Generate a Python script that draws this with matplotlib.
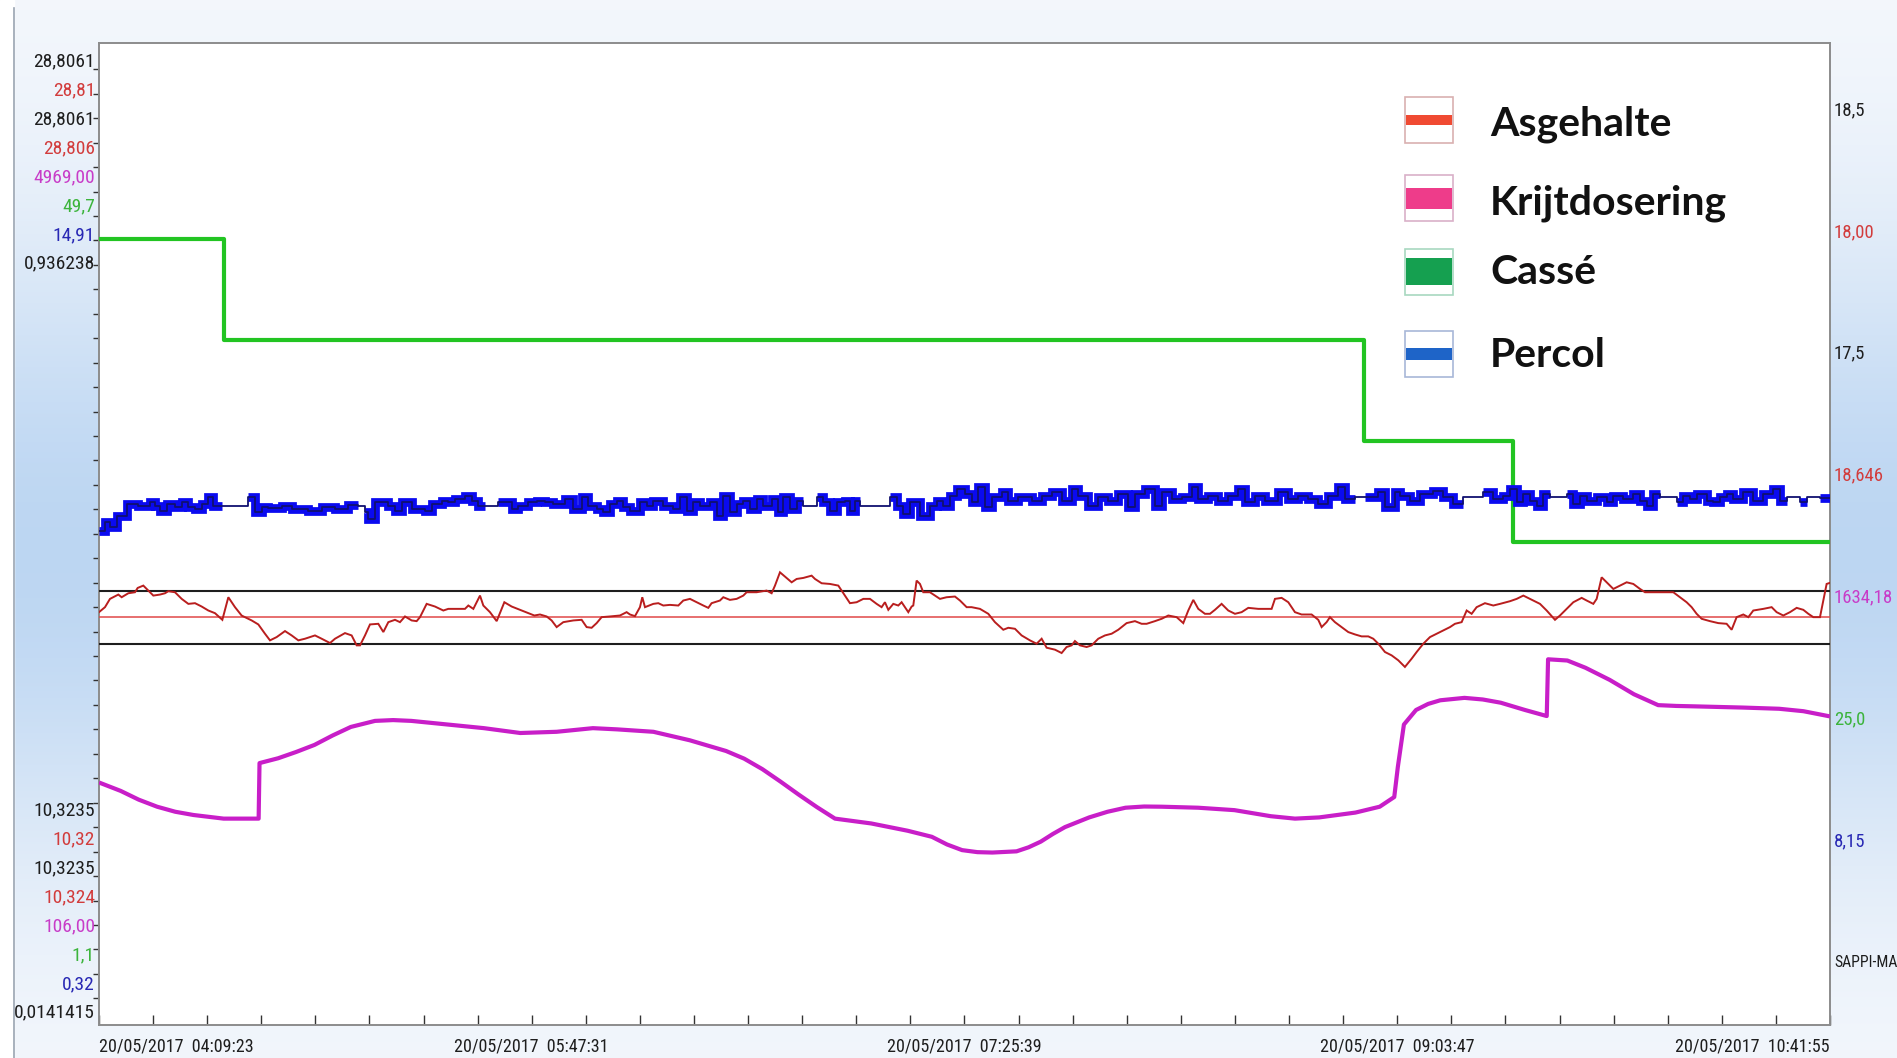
import numpy as np
import matplotlib
matplotlib.use("Agg")
import matplotlib.pyplot as plt
from matplotlib import font_manager
from matplotlib.patches import Rectangle

# ---------------------------------------------------------------- data
SPAN_MIN = 392.533          # 20/05/2017 04:09:23 -> 10:41:55
time_labels = ["20/05/2017  04:09:23", "20/05/2017  05:47:31",
               "20/05/2017  07:25:39", "20/05/2017  09:03:47",
               "20/05/2017  10:41:55"]
minor_per_label = 8

# scale ranges (bottom, top) of each pen
scale_limits_black = (10.3235, 28.8061)
scale_setpoint = (10.32, 28.81)
scale_asgehalte = (10.324, 28.806)
scale_krijt = (106.0, 4969.0)
scale_casse = (1.1, 49.7)
scale_percol = (0.32, 14.91)
scale_misc = (0.0141415, 0.936238)

limit_high = 18.5
setpoint = 18.00
limit_low = 17.5

# Asgehalte (minutes from start, value)
asgehalte_readings = [
    (0.0, 18.094), (1.36, 18.188), (2.49, 18.344), (4.38, 18.425), (5.14, 18.375),
    (6.65, 18.45), (8.16, 18.469), (8.77, 18.55), (10.05, 18.594), (11.19, 18.5),
    (12.32, 18.406), (13.83, 18.425), (14.97, 18.45), (15.72, 18.488), (17.23, 18.469),
    (18.75, 18.344), (20.26, 18.25), (21.77, 18.263), (23.28, 18.2), (24.79, 18.125),
    (26.30, 18.075), (27.97, 17.95), (29.33, 18.375), (30.84, 18.188), (32.35, 18.03),
    (34.62, 17.938), (36.13, 17.863), (37.64, 17.688), (38.78, 17.563), (40.29, 17.625),
    (42.18, 17.738), (43.69, 17.656), (45.20, 17.563), (46.71, 17.594), (48.98, 17.656),
    (50.49, 17.594), (52.38, 17.513), (53.52, 17.594), (55.78, 17.7), (57.29, 17.656),
    (58.43, 17.469), (59.19, 17.469), (60.32, 17.656), (61.45, 17.863), (63.34, 17.875),
    (64.48, 17.72), (65.61, 17.906), (67.12, 17.95), (68.25, 17.906), (69.39, 18.013),
    (70.90, 17.938), (72.03, 17.925), (72.79, 18.0), (74.30, 18.25), (76.19, 18.2),
    (78.08, 18.125), (79.21, 18.156), (82.99, 18.156), (83.75, 18.219), (84.89, 18.156),
    (85.64, 18.281), (86.40, 18.406), (87.15, 18.219), (88.66, 18.094), (90.18, 17.925),
    (91.92, 18.281), (93.58, 18.2), (95.84, 18.125), (97.36, 18.075), (98.72, 18.031),
    (100.0, 18.05), (101.51, 18.013), (102.64, 17.938), (103.78, 17.813), (105.29, 17.906),
    (107.56, 17.938), (109.45, 17.95), (110.58, 17.813), (111.71, 17.8), (112.85, 17.888),
    (113.98, 18.0), (115.87, 18.013), (118.14, 18.031), (119.65, 18.094), (120.41, 18.05),
    (121.54, 18.019), (122.67, 18.188), (123.20, 18.375), (123.81, 18.188), (125.70, 18.25),
    (126.83, 18.263), (127.96, 18.219), (129.48, 18.231), (131.37, 18.219), (132.50, 18.313),
    (134.01, 18.344), (135.52, 18.281), (137.04, 18.219), (138.17, 18.175), (138.92, 18.263),
    (140.81, 18.313), (141.57, 18.375), (143.08, 18.325), (144.59, 18.344), (146.11, 18.406),
    (146.86, 18.469), (149.13, 18.469), (151.40, 18.5), (152.53, 18.45), (153.29, 18.594),
    (154.42, 18.844), (155.55, 18.763), (157.07, 18.656), (158.20, 18.719), (159.71, 18.738),
    (161.60, 18.781), (162.36, 18.719), (163.87, 18.638), (165.76, 18.625), (167.65, 18.594),
    (169.16, 18.406), (170.29, 18.263), (171.81, 18.281), (173.32, 18.344), (174.83, 18.344),
    (176.34, 18.25), (177.47, 18.188), (178.23, 18.281), (178.99, 18.138), (180.12, 18.25),
    (181.25, 18.219), (182.01, 18.281), (183.52, 18.094), (184.28, 18.2), (184.65, 18.219),
    (185.41, 18.688), (186.17, 18.625), (186.92, 18.469), (188.43, 18.469), (189.57, 18.406),
    (190.70, 18.344), (192.21, 18.375), (194.10, 18.388), (195.24, 18.313), (196.75, 18.188),
    (197.88, 18.188), (199.77, 18.156), (201.66, 18.063), (203.17, 17.906), (205.06, 17.763),
    (206.20, 17.8), (207.71, 17.781), (209.22, 17.656), (211.11, 17.563), (212.62, 17.5),
    (213.76, 17.594), (214.89, 17.425), (216.78, 17.388), (218.29, 17.325), (219.42, 17.438),
    (220.56, 17.469), (221.31, 17.55), (222.45, 17.469), (223.96, 17.438), (225.09, 17.469),
    (226.60, 17.594), (228.12, 17.656), (229.63, 17.688), (231.14, 17.763), (233.03, 17.888),
    (234.92, 17.925), (236.43, 17.875), (237.57, 17.875), (239.45, 17.925), (240.97, 17.969),
    (242.48, 18.031), (244.37, 18.0), (245.88, 17.888), (247.01, 18.125), (248.15, 18.325),
    (249.28, 18.156), (250.79, 18.063), (251.93, 18.063), (253.06, 18.138), (254.57, 18.25),
    (256.08, 18.125), (257.60, 18.063), (259.11, 18.094), (260.62, 18.175), (262.89, 18.156),
    (265.91, 18.156), (266.67, 18.344), (268.18, 18.363), (269.69, 18.281), (271.20, 18.094),
    (272.71, 18.05), (274.98, 18.05), (276.49, 17.95), (277.25, 17.813), (278.38, 17.906),
    (279.14, 18.0), (280.27, 17.906), (281.78, 17.813), (283.30, 17.719), (284.81, 17.675),
    (286.32, 17.638), (287.83, 17.638), (288.96, 17.594), (290.10, 17.5), (291.61, 17.344),
    (293.12, 17.281), (294.63, 17.188), (296.14, 17.063), (297.67, 17.219), (298.80, 17.344),
    (300.31, 17.5), (301.82, 17.625), (303.33, 17.688), (304.85, 17.75), (306.36, 17.813),
    (307.49, 17.875), (309.00, 17.906), (310.14, 18.125), (311.27, 18.063), (312.40, 18.188),
    (314.29, 18.263), (316.18, 18.219), (317.70, 18.25), (319.96, 18.3), (321.48, 18.344),
    (322.99, 18.406), (324.50, 18.344), (326.77, 18.25), (328.28, 18.125), (330.17, 17.95),
    (331.30, 18.031), (332.81, 18.156), (334.33, 18.281), (336.22, 18.363), (337.35, 18.313),
    (338.86, 18.25), (339.62, 18.344), (340.75, 18.75), (341.88, 18.656), (343.40, 18.531),
    (344.91, 18.594), (346.42, 18.656), (347.93, 18.625), (349.45, 18.531), (350.58, 18.469),
    (353.22, 18.469), (355.49, 18.469), (357.00, 18.469), (358.51, 18.375), (360.02, 18.281),
    (361.16, 18.188), (362.29, 18.063), (363.43, 17.969), (365.31, 17.925), (367.20, 17.888),
    (369.09, 17.875), (370.23, 17.763), (371.36, 18.0), (372.87, 18.05), (374.01, 18.0),
    (375.14, 18.125), (377.41, 18.156), (379.30, 18.188), (380.43, 18.094), (381.94, 18.031),
    (383.46, 18.094), (384.97, 18.175), (386.48, 18.138), (387.62, 18.063), (388.75, 18.0),
    (390.26, 18.0), (391.01, 18.313), (391.77, 18.625), (392.53, 18.646),
]

# Krijtdosering
krijt_readings = [
    (0.0, 1307), (4.94, 1265), (9.0, 1222), (13.18, 1187), (17.3, 1162), (21.41, 1146),
    (28.27, 1128), (36.2, 1128), (36.4, 1403), (40.63, 1427), (44.7, 1458), (48.86, 1493),
    (53.0, 1540), (57.10, 1582), (62.59, 1612), (66.7, 1616), (70.82, 1612), (79.06, 1594),
    (87.29, 1576), (95.53, 1552), (103.76, 1558), (112.0, 1576), (117.49, 1570),
    (125.72, 1558), (133.96, 1516), (142.19, 1463), (146.3, 1425), (150.43, 1373),
    (154.5, 1312), (158.66, 1247), (162.8, 1185), (166.90, 1128), (175.13, 1104),
    (183.37, 1068), (188.86, 1038), (192.3, 1000), (195.72, 972), (199.2, 962),
    (202.58, 960), (208.07, 966), (210.8, 986), (213.56, 1014), (216.3, 1052),
    (219.05, 1086), (224.54, 1134), (228.7, 1162), (232.78, 1182), (237.0, 1188),
    (241.01, 1187), (249.25, 1182), (257.48, 1170), (265.72, 1140), (271.21, 1128),
    (276.70, 1134), (284.93, 1158), (290.42, 1187), (293.72, 1235), (294.54, 1385),
    (295.91, 1594), (298.66, 1666), (301.4, 1696), (304.15, 1714), (309.64, 1726),
    (313.8, 1718), (317.87, 1702), (323.36, 1666), (328.30, 1636), (328.6, 1917),
    (332.97, 1911), (337.09, 1875), (342.58, 1815), (348.07, 1744), (353.56, 1690),
    (357.7, 1686), (361.79, 1684), (372.77, 1678), (381.01, 1672), (386.50, 1660),
    (392.53, 1634.18),
]

# Cassé (step changes)
casse_time = [0.0, 28.27, 286.85, 320.6, 392.53]
casse_value = [40.0, 35.0, 30.0, 25.0, 25.0]

# Percol
percol_readings = [
    (0.0, 7.665), (1.36, 7.788), (2.49, 7.714), (4.01, 7.887), (6.27, 8.06),
    (8.92, 8.035), (11.56, 8.085), (12.70, 8.035), (13.83, 7.961), (15.34, 8.06),
    (17.23, 8.01), (18.75, 8.085), (20.26, 8.01), (21.77, 7.986), (23.28, 8.06),
    (24.79, 8.159), (25.93, 8.035), (27.82, 8.035), (33.86, 8.159), (35.38, 7.936),
    (36.89, 8.01), (38.40, 7.998), (41.42, 8.025), (43.69, 7.986), (47.47, 7.961),
    (50.49, 8.01), (53.52, 7.986), (56.54, 8.045), (58.81, 8.035), (60.32, 7.936),
    (61.0, 7.838), (62.59, 8.085), (65.61, 8.035), (67.12, 7.961), (68.64, 8.085),
    (70.90, 7.986), (73.93, 7.961), (75.44, 8.06), (77.71, 8.11), (79.22, 8.085),
    (80.73, 8.134), (83.0, 8.184), (84.51, 8.11), (86.02, 8.035), (87.53, 8.035),
    (90.56, 8.085), (93.58, 7.986), (95.09, 8.035), (97.36, 8.085), (99.24, 8.11),
    (101.13, 8.085), (103.02, 8.06), (105.67, 8.134), (107.56, 7.986), (109.45, 8.159),
    (110.96, 8.035), (112.85, 7.986), (114.36, 7.936), (115.87, 8.06), (117.38, 8.11),
    (118.90, 8.01), (120.41, 7.961), (122.67, 8.085), (124.19, 8.035), (125.70, 8.11),
    (127.97, 8.035), (130.23, 7.986), (131.75, 8.159), (133.26, 7.961), (134.77, 8.085),
    (136.28, 8.035), (138.55, 8.085), (140.06, 7.887), (141.57, 8.184), (143.08, 7.936),
    (144.60, 8.06), (146.11, 8.11), (147.62, 7.986), (149.13, 8.134), (150.64, 8.035),
    (152.53, 8.134), (154.04, 7.936), (155.18, 8.159), (156.69, 7.986), (158.20, 8.11),
    (159.71, 8.035), (162.73, 8.159), (164.25, 8.085), (165.76, 7.961), (167.27, 8.085),
    (169.16, 8.11), (170.30, 7.961), (171.43, 8.11), (172.56, 8.035), (179.37, 8.159),
    (180.88, 8.035), (182.39, 7.912), (183.90, 8.085), (186.17, 7.887), (188.44, 8.035),
    (189.95, 8.11), (191.46, 8.035), (192.97, 8.184), (194.49, 8.282), (196.37, 8.208),
    (197.88, 8.085), (199.39, 8.307), (200.91, 8.01), (202.42, 8.159), (204.69, 8.233),
    (206.20, 8.11), (208.46, 8.159), (211.49, 8.11), (213.76, 8.184), (216.02, 8.233),
    (218.29, 8.11), (220.56, 8.282), (222.07, 8.184), (224.34, 8.035), (226.61, 8.159),
    (228.87, 8.11), (231.14, 8.208), (233.41, 8.01), (234.92, 8.208), (237.19, 8.282),
    (239.46, 8.035), (240.97, 8.233), (243.24, 8.134), (245.50, 8.159), (247.77, 8.307),
    (249.28, 8.134), (251.55, 8.184), (253.82, 8.11), (256.09, 8.184), (258.35, 8.282),
    (259.86, 8.085), (262.13, 8.184), (264.40, 8.11), (267.42, 8.233), (269.69, 8.134),
    (271.96, 8.184), (274.23, 8.134), (276.49, 8.06), (278.76, 8.184), (281.03, 8.307),
    (282.54, 8.134), (284.81, 8.159), (287.08, 8.159), (290.10, 8.233), (291.61, 8.01),
    (293.88, 8.233), (295.02, 8.184), (297.29, 8.11), (299.56, 8.208), (302.58, 8.258),
    (304.85, 8.159), (307.11, 8.06), (309.38, 8.159), (313.92, 8.233), (316.19, 8.134),
    (318.45, 8.184), (319.96, 8.282), (321.48, 8.085), (322.99, 8.208), (324.50, 8.11),
    (326.01, 8.035), (327.52, 8.208), (329.04, 8.159), (332.82, 8.208), (334.33, 8.06),
    (335.84, 8.184), (337.35, 8.11), (339.62, 8.159), (341.89, 8.085), (343.40, 8.184),
    (345.67, 8.134), (347.93, 8.208), (349.44, 8.11), (350.96, 8.035), (352.47, 8.208),
    (353.98, 8.159), (357.76, 8.085), (359.27, 8.184), (360.78, 8.134), (362.30, 8.208),
    (364.56, 8.11), (366.07, 8.085), (367.59, 8.159), (369.10, 8.208), (370.61, 8.134),
    (372.88, 8.233), (375.15, 8.11), (377.41, 8.208), (379.68, 8.282), (381.19, 8.11),
    (382.70, 8.159), (385.73, 8.085), (387.24, 8.159), (390.26, 8.15), (392.53, 8.15),
]
# stretches where the Percol pen is drawn thin only
percol_thin_spans = [(27.82, 33.86), (58.81, 60.32), (87.53, 90.56), (159.71, 162.73),
                     (172.56, 179.37), (284.81, 287.08), (309.38, 313.92),
                     (329.04, 332.82), (353.98, 357.76), (382.70, 385.73),
                     (387.24, 390.26)]

left_top_labels = ["28,8061", "28,81", "28,8061", "28,806", "4969,00", "49,7", "14,91", "0,936238"]
left_bottom_labels = ["10,3235", "10,32", "10,3235", "10,324", "106,00", "1,1", "0,32", "0,0141415"]
tag_name = "SAPPI-MA"

legend_names = ["Asgehalte", "Krijtdosering", "Cassé", "Percol"]

# ---------------------------------------------------------------- style
BLACK = "#1e1e1e"
RED_TXT = "#d23c3c"
MAG_TXT = "#c83cc8"
GRN_TXT = "#3cb43c"
BLU_TXT = "#2828b4"
label_colors = [BLACK, RED_TXT, BLACK, RED_TXT, MAG_TXT, GRN_TXT, BLU_TXT, BLACK]

W, H, DPI = 1897, 1058, 100
names = {f.name for f in font_manager.fontManager.ttflist}
NARROW = "Liberation Sans"
for cand in ["Liberation Sans Narrow", "Roboto Condensed", "Open Sans Condensed",
             "Arial Narrow"]:
    if cand in names:
        NARROW = cand
        break
IS_NARROW = NARROW != "Liberation Sans"
LEG_FONT = "Lato" if "Lato" in names else "DejaVu Sans"
SMALL = 14 if IS_NARROW else 12.5
XSMALL = 13 if IS_NARROW else 11.8
RSMALL = 13.5 if IS_NARROW else 11.5


def fx(px):
    return px / W


def fy(py):
    return 1 - py / H


def comma(v, nd):
    return f"{v:.{nd}f}".replace(".", ",")


fig = plt.figure(figsize=(W / DPI, H / DPI), dpi=DPI)
fig.patch.set_facecolor("white")

# window background: soft blue vertical wash behind the plot frame
bg = fig.add_axes([0, 0, 1, 1], zorder=-10)
bg.set_axis_off()
rows = np.linspace(0, 1, 200)[:, None]
wash = np.exp(-((rows - 0.52) / 0.30) ** 2)
top_col = np.array([0.965, 0.975, 0.99])
mid_col = np.array([0.74, 0.84, 0.95])
img = top_col + (mid_col - top_col) * wash[..., None] * np.ones((1, 2, 1))
bg.imshow(img, extent=[0, 1, 0, 1], aspect="auto", interpolation="bilinear")
bg.add_patch(Rectangle((0, 0), fx(14), 1, color="white", zorder=2))
bg.plot([fx(14), fx(14)], [0, fy(8)], color="#9aa4b2", lw=1.2, zorder=3)
bg.set_xlim(0, 1)
bg.set_ylim(0, 1)

# plot frame
L, R, T, B = 99, 1830, 43, 1025
ax = fig.add_axes([fx(L), fy(B), fx(R - L), (B - T) / H])
ax.set_facecolor("white")
ax.set_xlim(0, SPAN_MIN)
ax.set_ylim(0, 1)
for s in ax.spines.values():
    s.set_color("#8c8c8c")
    s.set_linewidth(1.4)

# left tick marks, evenly spaced along the frame
ytick_px = np.linspace(69.3, 998.3, 39)
ax.set_yticks(1 - (ytick_px - T) / (B - T))
ax.set_yticklabels([])
ax.tick_params(axis="y", direction="out", length=4.5, width=1.0, color="#333333",
               right=False)

# time axis
n_minor = minor_per_label * (len(time_labels) - 1)
xt = np.linspace(0, SPAN_MIN, n_minor + 1)
ax.set_xticks(xt)
xl = [""] * len(xt)
for i, lab in enumerate(time_labels):
    xl[i * minor_per_label] = lab
ax.set_xticklabels(xl, fontsize=XSMALL, family=[NARROW, "DejaVu Sans"], color=BLACK)
ax.tick_params(axis="x", direction="in", length=7.5, width=1.0, color="#333333",
               pad=9, top=False)
tls = ax.get_xticklabels()
tls[0].set_ha("left")
tls[-1].set_ha("right")


def pen(lim):
    a = ax.twinx()
    a.set_ylim(*lim)
    a.set_xlim(0, SPAN_MIN)
    a.axis("off")
    return a


# limit and setpoint lines
pl = pen(scale_limits_black)
pl.axhline(limit_high, color=BLACK, lw=1.5)
pl.axhline(limit_low, color=BLACK, lw=1.5)
ps = pen(scale_setpoint)
ps.axhline(setpoint, color="#e04848", lw=1.1)

# Asgehalte
pa = pen(scale_asgehalte)
at, av = map(np.array, zip(*asgehalte_readings))
pa.plot(at, av, color="#b91e1e", lw=1.4, solid_joinstyle="miter")

# Krijtdosering
pk = pen(scale_krijt)
kt, kv = map(np.array, zip(*krijt_readings))
pk.plot(kt, kv, color="#c81ec8", lw=3.0, solid_capstyle="butt")

# Cassé
pc = pen(scale_casse)
pc.step(casse_time, casse_value, where="post", color="#22c422", lw=3.0)

# Percol: thick pen with thin centre trace
pp = pen(scale_percol)
ptt, pvv = map(np.array, zip(*percol_readings))
thick = pvv.copy()
for a0, a1 in percol_thin_spans:
    thick[(ptt >= a0) & (ptt < a1)] = np.nan
pp.step(ptt, thick, where="post", color="#0a0af0", lw=6.3, solid_joinstyle="miter",
        solid_capstyle="butt")
pp.step(ptt, pvv, where="post", color="#101070", lw=1.3)

# left scale labels
lab_font = dict(fontsize=SMALL, family=[NARROW, "DejaVu Sans"], ha="right", va="center")
for i, (lab, c) in enumerate(zip(left_top_labels, label_colors)):
    fig.text(fx(95), fy(61.8 + i * 28.86), lab, color=c, **lab_font)
for i, (lab, c) in enumerate(zip(left_bottom_labels, label_colors)):
    fig.text(fx(95), fy(810.7 + i * 28.86), lab, color=c, **lab_font)

# right column: current values
right_labels = [comma(limit_high, 1), comma(setpoint, 2), comma(limit_low, 1),
                comma(av[-1], 3), comma(kv[-1], 2), comma(casse_value[-1], 1),
                comma(pvv[-1], 2), tag_name]
for i, (lab, c) in enumerate(zip(right_labels, label_colors)):
    fs = RSMALL if lab != tag_name else RSMALL - 2.2
    fig.text(fx(1834), fy(110.2 + i * 121.8), lab, color=c, fontsize=fs,
             family=[NARROW, "DejaVu Sans"], ha="left", va="center")

# legend
sw_band = [("#f04a32", 10, "#d9b0b0"), ("#ee3c8a", 21, "#d9b0c8"),
           ("#15a050", 27, "#a8d8c0"), ("#1e64c8", 12, "#a8b8d8")]
row_y = [119.7, 198.3, 271.7, 354.2]
row_base = [135.5, 215.0, 284.0, 367.0]
for name, yc, yb, (col, bh, edge) in zip(legend_names, row_y, row_base, sw_band):
    x0, w, h = 1405, 48, 46
    fig.patches.append(Rectangle((fx(x0), fy(yc + h / 2)), fx(w), h / H,
                                 transform=fig.transFigure, facecolor="white",
                                 edgecolor=edge, lw=1.2))
    fig.patches.append(Rectangle((fx(x0 + 1), fy(yc + bh / 2)), fx(w - 2), bh / H,
                                 transform=fig.transFigure, facecolor=col,
                                 edgecolor="none"))
    fig.text(fx(1490), fy(yb), name, fontsize=29.5, fontweight="bold",
             family=[LEG_FONT, "DejaVu Sans"], color="#111111", ha="left",
             va="baseline")

fig.savefig("out.png", dpi=DPI)
